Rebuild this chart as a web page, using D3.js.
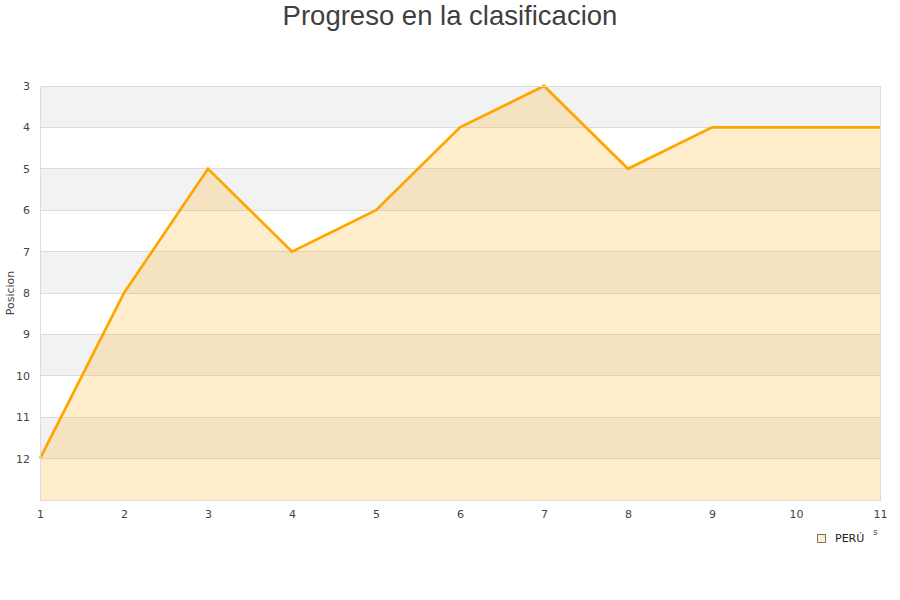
<!DOCTYPE html>
<html><head><meta charset="utf-8">
<script src="https://cdn.jsdelivr.net/npm/d3@7"></script>
<style>body{margin:0;background:#fff;font-family:"DejaVu Sans",sans-serif;}</style>
</head><body><svg id="c" width="900" height="600"></svg>
<script>
const rounds = [1,2,3,4,5,6,7,8,9,10,11];
const positions = [12,8,5,7,6,4,3,5,4,4,4];
const yTicks = [3,4,5,6,7,8,9,10,11,12];
const seriesName = "PERÚ";
const title = "Progreso en la clasificacion";
const yTitle = "Posicion";

const svg = d3.select("#c");
const m = {l:40, r:880, t:86, b:500};
const x = d3.scaleLinear().domain([1,11]).range([m.l, m.r]);
const y = d3.scaleLinear().domain([3,13]).range([m.t, m.b]);

// bands
const bands = d3.range(3,13);
svg.selectAll("rect.band").data(bands).enter().append("rect")
  .attr("x", m.l).attr("width", m.r-m.l)
  .attr("y", d=>y(d)).attr("height", d=>y(d+1)-y(d))
  .attr("fill", d=> (d%2===1) ? "#f2f2f2" : "#ffffff");

// grid
svg.selectAll("line.grid").data(yTicks).enter().append("line")
  .attr("x1", m.l).attr("x2", m.r).attr("y1", d=>y(d)).attr("y2", d=>y(d))
  .attr("stroke", "#dcdcdc").attr("stroke-width",1).attr("shape-rendering","crispEdges");

// area
const area = d3.area().x((d,i)=>x(rounds[i])).y0(y(13)).y1(d=>y(d));
svg.append("path").datum(positions).attr("d", area)
  .attr("fill", "#ffa500").attr("fill-opacity", 0.2);
const line = d3.line().x((d,i)=>x(rounds[i])).y(d=>y(d));
svg.append("path").datum(positions).attr("d", line)
  .attr("fill","none").attr("stroke","#ffa500").attr("stroke-width",2.7);

// border
svg.append("rect").attr("x", m.l).attr("y", m.t).attr("width", m.r-m.l).attr("height", m.b-m.t)
  .attr("fill","none").attr("stroke","#dcdcdc").attr("shape-rendering","crispEdges");

// axes
const yAxis = d3.axisLeft(y).tickValues(yTicks).tickSize(0).tickPadding(10);
const gy = svg.append("g").attr("transform", `translate(${m.l},0)`).call(yAxis);
gy.select(".domain").remove();
gy.selectAll("text").attr("fill","#444").style("font-size","11px").style("font-family","DejaVu Sans");

const xAxis = d3.axisBottom(x).tickValues(rounds).tickSize(0).tickPadding(10).tickFormat(d3.format("d"));
const gx = svg.append("g").attr("transform", `translate(0,${m.b})`).call(xAxis);
gx.select(".domain").remove();
gx.selectAll("text").attr("fill","#444").style("font-size","11px").style("font-family","DejaVu Sans");

// titles
svg.append("text").attr("x",450).attr("y",25).attr("text-anchor","middle")
  .style("font-size","27.5px").style("font-family","Liberation Sans, Arial, sans-serif").attr("fill","#3f3f3f").text(title);
svg.append("text").attr("transform","translate(14,293) rotate(-90)").attr("text-anchor","middle")
  .style("font-size","11px").attr("fill","#444").text(yTitle);

// stray axis-title fragment
svg.append("text").attr("x",873).attr("y",535).style("font-size","9px").attr("fill","#444").text("s");

// legend
svg.append("rect").attr("x",817.5).attr("y",534.5).attr("width",8).attr("height",8)
  .attr("fill","#ffedcc").attr("stroke","#777");
svg.append("text").attr("x",835).attr("y",542).style("font-size","11px").attr("fill","#222").text(seriesName);
</script></body></html>
